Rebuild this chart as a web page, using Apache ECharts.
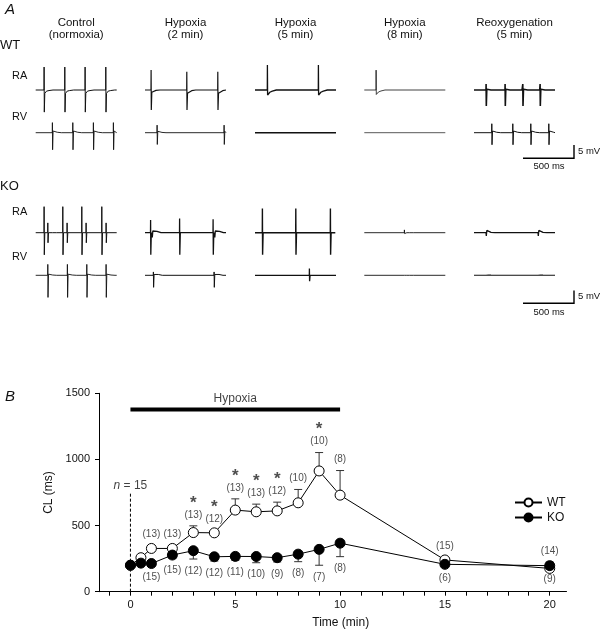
<!DOCTYPE html>
<html>
<head>
<meta charset="utf-8">
<script src="https://cdn.jsdelivr.net/npm/echarts@6.0.0/dist/echarts.min.js"></script>
<style>
  html, body { margin: 0; padding: 0; background: #fff; }
  #main { width: 600px; height: 634px; }
</style>
</head>
<body>
<div id="main"></div>
<script>
// ---------- panel A : electrograms ----------
var traceLen = 810; // ms shown per trace
var colTitles = [['Control', '(normoxia)'], ['Hypoxia', '(2 min)'], ['Hypoxia', '(5 min)'], ['Hypoxia', '(8 min)'], ['Reoxygenation', '(5 min)']];
// events per trace: [time ms, spike up mV, spike down mV, after-dip mV, after-hump mV]
var wtRA = [
    [[83, 8.2, -7.9, -1.2, -0.4], [290, 8.2, -7.9, -1.2, -0.4], [493, 8.2, -7.9, -1.2, -0.4], [700, 8.2, -7.9, -1.2, -0.4]],
    [[60, 7.1, -7.1, -0.8, -0.3], [417, 6.5, -7.1, -1.2, -0.5], [727, 6.5, -7.1, -1.2, -0.5]],
    [[123, 8.9, -1.8, -1.6, -0.8], [633, 8.9, -1.8, -1.6, -0.8]],
    [[117, 7.1, -1.6, -1.4, -0.7]],
    [[120, 2.1, -5.7, 0.3, 0], [177, 0.6, -0.3, 0, 0], [310, 2.1, -5.7, 0.3, 0], [390, 0.6, -0.3, 0, 0],
     [487, 2.1, -5.7, 0.3, 0], [567, 0.6, -0.3, 0, 0], [660, 2.1, -5.7, 0.3, 0], [747, 0.6, -0.3, 0, 0]]
];
var wtRV = [
    [[166, 3.6, -6.1, 0.6, 0.3], [370, 3.6, -6.1, 0.6, 0.3], [576, 3.6, -6.1, 0.6, 0.3], [776, 3.6, -6.1, 0.6, 0.3]],
    [[120, 2.7, -4.2, 0.5, 0.2], [790, 2.7, -4.2, 0.5, 0.2]],
    [],
    [],
    [[177, 3.2, -4.3, 0.6, 0.3], [387, 3.2, -4.3, 0.6, 0.3], [567, 3.2, -4.3, 0.6, 0.3], [747, 3.2, -4.3, 0.6, 0.3]]
];
var koRA = [
    [[83, 9.3, -7.9, 0, 0], [120, 3.5, -3.6, 0, 0], [270, 9.3, -7.9, 0, 0], [313, 3.5, -3.6, 0, 0],
     [460, 9.3, -7.9, 0, 0], [503, 3.5, -3.6, 0, 0], [660, 9.3, -7.9, 0, 0], [703, 3.5, -3.6, 0, 0]],
    [[55, 4.5, -7.9, 0, 0], [70, 0.3, -1.7, 0.6, 1.0], [345, 5.1, -7.9, 0, 0], [680, 4.8, -7.9, 0, 0], [695, 0.3, -1.7, 0.6, 1.0]],
    [[73, 8.6, -7.9, 0, 0], [407, 8.6, -7.9, 0, 0], [520, 0.6, -0.6, 0, 0], [753, 8.6, -7.9, 0, 0]],
    [[400, 1.0, -0.3, 0, 0]],
    [[120, 0.3, -1.2, 0.8, 0.3], [640, 0.3, -1.2, 0.8, 0.3]]
];
var koRV = [
    [[120, 3.9, -7.9, 0.4, 0.2], [316, 3.9, -7.9, 0.4, 0.2], [510, 3.9, -7.9, 0.4, 0.2], [703, 3.9, -7.9, 0.4, 0.2]],
    [[83, 1.2, -4.3, 0.3, 0.6], [690, 1.2, -4.3, 0.3, 0.6]],
    [[543, 2.4, -2.1, 0, 0]],
    [[400, 0.6, -0.2, 0, 0]],
    [[120, 0.3, -0.4, 0.3, 0.1], [640, 0.3, -0.4, 0.3, 0.1]]
];

// ---------- panel B : cycle length ----------
var times = [0, 0.5, 1, 2, 3, 4, 5, 6, 7, 8, 9, 10, 15, 20];
var wtMean = [200, 257, 327, 327, 447, 445, 617, 604, 611, 672, 913, 730, 240, 176];
var wtSem = [0, 0, 22, 22, 51, 20, 85, 58, 66, 101, 139, 186, 20, 48];
var wtN = ['', '', 13, 13, 13, 12, 13, 13, 12, 10, 10, 8, 15, 14];
var wtStar = [0, 0, 0, 0, 1, 1, 1, 1, 1, 0, 1, 0, 0, 0];
var koMean = [200, 216, 213, 277, 310, 264, 267, 266, 257, 284, 320, 367, 207, 197];
var koSem = [0, 0, 15, 25, 63, 32, 30, 47, 32, 57, 120, 102, 12, 12];
var koN = ['', '', 15, 15, 12, 12, 11, 10, 9, 8, 7, 8, 6, 9];
var hypoxiaSpan = [0, 10];
var nStart = 15;
var nMarkTop = 747;

var FONT = 'Liberation Sans, Arial, Helvetica, sans-serif';

// layout of panel A
var rows = [wtRA, wtRV, koRA, koRV];
var rowBase = [90, 132.7, 232.7, 275.3];
var colLeft = [35.7, 145, 255, 364.3, 474];
var rowWidths = [[1.0, 1.2, 1.3, 0.8, 1.6], [0.9, 0.9, 1.4, 0.7, 1.0], [1.0, 1.3, 1.4, 0.9, 1.3], [0.9, 1.0, 1.3, 0.9, 1.1]];
var pxPerMv = 2.8;
var halfH = 30;

function buildTrace(events) {
    var pts = [[0, 0]];
    events.forEach(function (ev, k) {
        var t = ev[0], up = ev[1], down = ev[2], dip = ev[3], hump = ev[4];
        var next = k + 1 < events.length ? events[k + 1][0] : traceLen + 1;
        var shape = [[t, 0], [t + 1, up], [t + 3, down], [t + 8, dip], [t + 25, hump], [t + 50, hump / 2], [t + 90, 0]];
        shape.forEach(function (p) {
            if (p[0] < next && p[0] <= traceLen) pts.push(p);
        });
    });
    pts.push([traceLen, 0]);
    return pts;
}

var grids = [], xAxes = [], yAxes = [], series = [];
rows.forEach(function (row, r) {
    row.forEach(function (events, c) {
        var gi = grids.length;
        grids.push({ left: colLeft[c], top: rowBase[r] - halfH, width: 81, height: halfH * 2 });
        xAxes.push({ type: 'value', gridIndex: gi, min: 0, max: traceLen, show: false });
        yAxes.push({ type: 'value', gridIndex: gi, min: -halfH / pxPerMv, max: halfH / pxPerMv, show: false });
        series.push({
            type: 'line', xAxisIndex: gi, yAxisIndex: gi, data: buildTrace(events),
            showSymbol: false, silent: true,
            lineStyle: { color: '#111', width: rowWidths[r][c] }
        });
    });
});

// panel B grids: main one and one only for the integer ticks
var gB = grids.length;
grids.push({ left: 99, top: 393.3, width: 467.5, height: 198.4 });
grids.push({ left: 109.5, top: 393.3, width: 440.2, height: 198.4 });
var axisText = { color: '#111', fontSize: 11, fontFamily: FONT };
xAxes.push({
    type: 'value', gridIndex: gB, min: -1.5, max: 20.8,
    axisLine: { show: true, onZero: false, lineStyle: { color: '#000', width: 1 } },
    axisTick: { show: false }, axisLabel: { show: false }, splitLine: { show: false },
    name: 'Time (min)', nameLocation: 'middle', nameGap: 25,
    nameTextStyle: { color: '#111', fontSize: 12, fontFamily: FONT, padding: [0, 0, 0, 16] }
});
xAxes.push({
    type: 'value', gridIndex: gB + 1, min: -1, max: 20, interval: 1,
    axisLine: { show: false, onZero: false },
    axisTick: { show: true, length: 4, lineStyle: { color: '#000' } },
    axisLabel: Object.assign({ margin: 8, formatter: function (v) { return v % 5 === 0 ? String(v) : ''; } }, axisText),
    splitLine: { show: false }
});
yAxes.push({
    type: 'value', gridIndex: gB, min: 0, max: 1500, interval: 500,
    axisLine: { show: true, onZero: false, lineStyle: { color: '#000', width: 1 } },
    axisTick: { show: true, length: 4, lineStyle: { color: '#000' } },
    axisLabel: Object.assign({ margin: 9, formatter: function (v) { return String(v); } }, axisText),
    splitLine: { show: false },
    name: 'CL (ms)', nameLocation: 'middle', nameGap: 38, nameRotate: 90,
    nameTextStyle: { color: '#111', fontSize: 12, fontFamily: FONT }
});
yAxes.push({ type: 'value', gridIndex: gB + 1, min: 0, max: 1500, show: false });

function errData(mean, sem, sign) {
    return times.map(function (t, i) { return [t, mean[i], sem[i] * sign]; });
}
function errItem(params, api) {
    var x = api.value(0), m = api.value(1), e = api.value(2);
    if (!e) return null;
    var p0 = api.coord([x, m]), p1 = api.coord([x, m + e]);
    var st = { stroke: '#333', lineWidth: 1 };
    return {
        type: 'group', children: [
            { type: 'line', shape: { x1: p0[0], y1: p0[1], x2: p1[0], y2: p1[1] }, style: st },
            { type: 'line', shape: { x1: p1[0] - 4, y1: p1[1], x2: p1[0] + 4, y2: p1[1] }, style: st }
        ]
    };
}
series.push({ type: 'custom', xAxisIndex: gB, yAxisIndex: gB, renderItem: errItem, data: errData(wtMean, wtSem, 1), z: 1, silent: true });
series.push({ type: 'custom', xAxisIndex: gB, yAxisIndex: gB, renderItem: errItem, data: errData(koMean, koSem, -1), z: 1, silent: true });

series.push({
    name: 'WT', type: 'line', xAxisIndex: gB, yAxisIndex: gB, z: 3,
    data: times.map(function (t, i) { return [t, wtMean[i]]; }),
    symbol: 'circle', symbolSize: 10, showSymbol: true,
    lineStyle: { color: '#000', width: 1 },
    itemStyle: { color: '#fff', borderColor: '#000', borderWidth: 1 }
});
series.push({
    name: 'KO', type: 'line', xAxisIndex: gB, yAxisIndex: gB, z: 4,
    data: times.map(function (t, i) { return [t, koMean[i]]; }),
    symbol: 'circle', symbolSize: 10, showSymbol: true,
    lineStyle: { color: '#000', width: 1 },
    itemStyle: { color: '#000', borderColor: '#000', borderWidth: 1 }
});

// n labels and significance stars
var nRich = {
    s: { fontSize: 17, fontWeight: 'bold', lineHeight: 12, color: '#222', fontFamily: FONT },
    n: { fontSize: 10, lineHeight: 12, color: '#222', fontFamily: FONT }
};
var wtLabels = [], koLabels = [];
times.forEach(function (t, i) {
    if (wtN[i] !== '') wtLabels.push({ value: [t, wtMean[i] + wtSem[i]], n: wtN[i], star: wtStar[i] });
    if (koN[i] !== '') koLabels.push({ value: [t, koMean[i] - koSem[i]], n: koN[i], star: 0 });
});
function nFormatter(p) {
    return (p.data.star ? '{s|*}\n' : '') + '{n|(' + p.data.n + ')}';
}
series.push({
    type: 'scatter', xAxisIndex: gB, yAxisIndex: gB, symbolSize: 0, data: wtLabels, silent: true, z: 6,
    itemStyle: { color: 'transparent' },
    label: { show: true, position: 'top', distance: 5, formatter: nFormatter, rich: nRich }
});
series.push({
    type: 'scatter', xAxisIndex: gB, yAxisIndex: gB, symbolSize: 0, data: koLabels, silent: true, z: 6,
    itemStyle: { color: 'transparent' },
    label: { show: true, position: 'bottom', distance: 6, formatter: nFormatter, rich: nRich }
});

// hypoxia bar
series.push({
    type: 'line', xAxisIndex: gB, yAxisIndex: gB, silent: true, showSymbol: false,
    data: hypoxiaSpan.map(function (x) { return [x, 1378]; }),
    lineStyle: { color: '#000', width: 4 }
});
series.push({
    type: 'scatter', xAxisIndex: gB, yAxisIndex: gB, symbolSize: 0, silent: true,
    itemStyle: { color: 'transparent' },
    data: [[(hypoxiaSpan[0] + hypoxiaSpan[1]) / 2, 1462]],
    label: { show: true, position: 'inside', formatter: 'Hypoxia', color: '#111', fontSize: 12, fontFamily: FONT }
});
// n = 15 dashed marker at time 0
series.push({
    type: 'custom', xAxisIndex: gB, yAxisIndex: gB, silent: true, z: 2,
    data: [[0, nMarkTop]],
    renderItem: function (params, api) {
        var p0 = api.coord([api.value(0), 0]), p1 = api.coord([api.value(0), api.value(1)]);
        return {
            type: 'line', shape: { x1: p0[0], y1: p0[1], x2: p1[0], y2: p1[1] },
            style: { stroke: '#000', lineWidth: 1, lineDash: [3, 2] }
        };
    }
});
series.push({
    type: 'scatter', xAxisIndex: gB, yAxisIndex: gB, symbolSize: 0, silent: true,
    itemStyle: { color: 'transparent' },
    data: [[0, nMarkTop]],
    label: {
        show: true, position: 'top', distance: 1,
        formatter: '{i|n} = ' + nStart,
        color: '#111', fontSize: 12, fontFamily: FONT,
        rich: { i: { fontStyle: 'italic', fontSize: 12, fontFamily: FONT, color: '#111' } }
    }
});

// ---------- static text / scale bars ----------
function txt(s, x, y, size, align, extra) {
    var st = {
        text: s, x: x, y: y, fill: '#111', fontSize: size, fontFamily: FONT,
        align: align || 'left', textAlign: align || 'left', verticalAlign: 'middle', textVerticalAlign: 'middle'
    };
    if (extra) Object.assign(st, extra);
    return { type: 'text', silent: true, style: st };
}
var graphics = [];
graphics.push(txt('A', 5, 10, 15, 'left', { fontStyle: 'italic' }));
graphics.push(txt('B', 5, 397, 15, 'left', { fontStyle: 'italic' }));
graphics.push(txt('WT', 0, 45, 13));
graphics.push(txt('KO', 0, 186, 13));
graphics.push(txt('RA', 12, 76, 11));
graphics.push(txt('RV', 12, 117.3, 11));
graphics.push(txt('RA', 12, 211.7, 11));
graphics.push(txt('RV', 12, 257.3, 11));
colTitles.forEach(function (tt, c) {
    var cx = colLeft[c] + 40.5;
    graphics.push(txt(tt[0], cx, 22.7, 11.5, 'center'));
    graphics.push(txt(tt[1], cx, 35, 11.5, 'center'));
});
[[145, 158.3, 151.7, 166.7], [290.5, 303.3, 296.7, 312.7]].forEach(function (sb) {
    graphics.push({
        type: 'polyline', silent: true,
        shape: { points: [[523, sb[1]], [574, sb[1]], [574, sb[0]]] },
        style: { stroke: '#000', lineWidth: 1.4, fill: null }
    });
    graphics.push(txt('5 mV', 578, sb[2], 9.5));
    graphics.push(txt('500 ms', 549, sb[3], 9.5, 'center'));
});

var chart = echarts.init(document.getElementById('main'), null, { renderer: 'canvas' });
chart.setOption({
    backgroundColor: '#fff',
    animation: false,
    grid: grids,
    xAxis: xAxes,
    yAxis: yAxes,
    legend: {
        data: ['WT', 'KO'], orient: 'vertical', left: 509, top: 491.5,
        itemWidth: 27, itemHeight: 10, itemGap: 3,
        textStyle: { color: '#111', fontSize: 12, fontFamily: FONT },
        selectedMode: false
    },
    series: series,
    graphic: graphics
});
</script>
</body>
</html>
